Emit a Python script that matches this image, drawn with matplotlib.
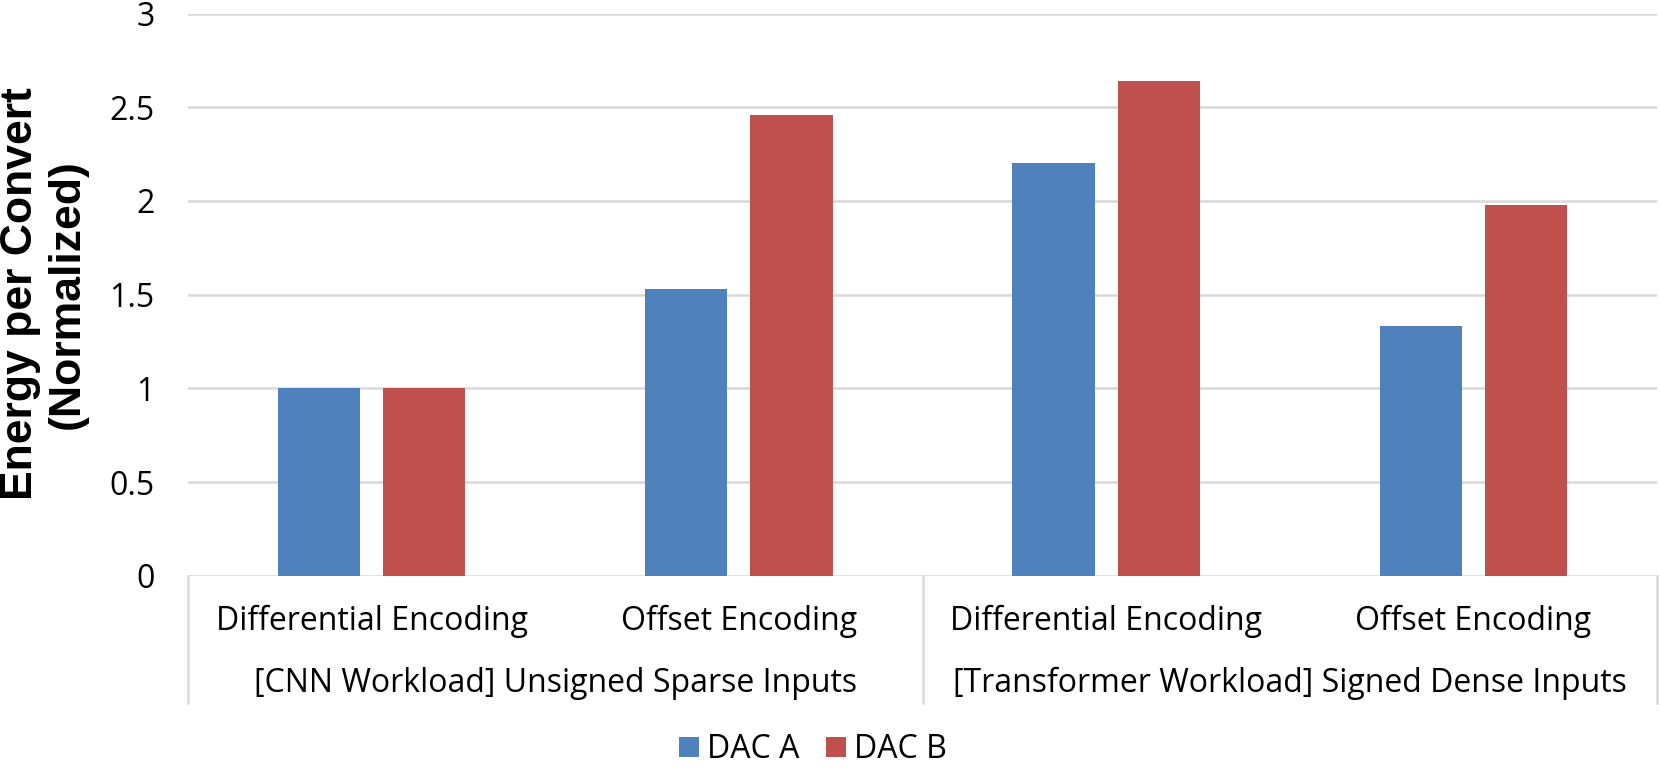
import matplotlib
matplotlib.use("Agg")
import matplotlib.pyplot as plt
import matplotlib.transforms as mtransforms
from matplotlib.lines import Line2D
from matplotlib.patches import Patch
import numpy as np

# ---- data ----
encodings = ["Differential Encoding", "Offset Encoding", "Differential Encoding", "Offset Encoding"]
groups = ["[CNN Workload] Unsigned Sparse Inputs", "[Transformer Workload] Signed Dense Inputs"]
series_names = ["DAC A", "DAC B"]
dac_a = [1.0, 1.53, 2.20, 1.33]
dac_b = [1.0, 2.46, 2.64, 1.98]
yticks = [0, 0.5, 1, 1.5, 2, 2.5, 3]
ytick_labels = ["0", "0.5", "1", "1.5", "2", "2.5", "3"]
ylabel = "Energy per Convert\n(Normalized)"

colors = ["#4F81BD", "#C0504D"]
grid_color = "#D9D9D9"
FONT = ["Open Sans", "DejaVu Sans"]
FS = 23

W, H = 1660, 767
fig = plt.figure(figsize=(W / 100, H / 100), dpi=100)
ax = fig.add_axes([188 / W, 1 - 575.7 / H, (1657 - 188) / W, (575.7 - 13.5) / H])

x = np.arange(len(encodings))
bw = 0.224
off = 0.143
ax.bar(x - off, dac_a, width=bw, color=colors[0], zorder=3, label=series_names[0])
ax.bar(x + off, dac_b, width=bw, color=colors[1], zorder=3, label=series_names[1])

ax.set_xlim(-0.5, len(encodings) - 0.5)
ax.set_ylim(0, 3)
ax.set_yticks(yticks)
ax.set_yticklabels(ytick_labels, fontfamily=FONT, fontsize=FS)
ax.tick_params(axis="y", length=0, pad=24)
ax.set_xticks([])
for s in ax.spines.values():
    s.set_visible(False)
ax.yaxis.grid(True, color=grid_color, linewidth=1.8, zorder=0)
ax.set_axisbelow(True)

# y label
fig.text(44 / W, 1 - 294 / H, ylabel, rotation=90, ha="center", va="center",
         fontfamily=["Liberation Sans", "DejaVu Sans"], fontweight="bold", fontsize=32,
         linespacing=1.2)

# category labels
trans = mtransforms.blended_transform_factory(ax.transData, fig.transFigure)
row1 = 1 - 630 / H
row2 = 1 - 692 / H
for xi, lab in zip(x, encodings):
    ax.text(xi, row1, lab, transform=trans, ha="center", va="baseline",
            fontfamily=FONT, fontsize=FS, clip_on=False)
for gi, g in enumerate(groups):
    ax.text(2 * gi + 0.5, row2, g, transform=trans, ha="center", va="baseline",
            fontfamily=FONT, fontsize=FS, clip_on=False)

# separator lines
y_top = 1 - 575.7 / H
y_bot = 1 - 703 / H
for xs in [-0.5, 1.5, 3.5]:
    ln = Line2D([xs, xs], [y_top, y_bot], transform=trans, color=grid_color,
                linewidth=1.8, clip_on=False)
    ax.add_line(ln)

# legend
handles = [Patch(facecolor=c, edgecolor="none") for c in colors]
leg = fig.legend(handles, series_names, loc="lower center", bbox_to_anchor=(813 / W, 1 / H),
                 ncol=2, frameon=False, prop={"family": FONT, "size": FS},
                 handlelength=0.6, handleheight=0.6, handletextpad=0.25,
                 columnspacing=0.86, borderpad=0, borderaxespad=0)

fig.savefig("out.png", dpi=100)
